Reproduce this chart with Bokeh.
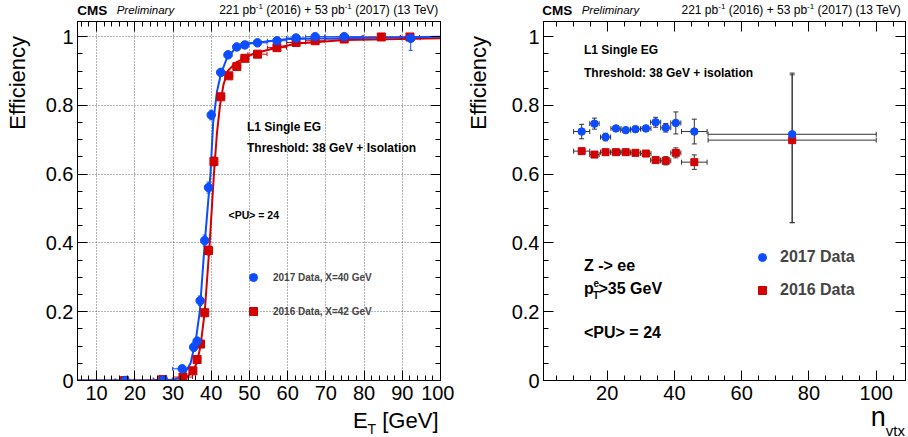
import numpy as np
from bokeh.plotting import figure
from bokeh.models import (ColumnDataSource, Whisker, TeeHead, Legend, LegendItem, Div, Label,
                          LinearAxis, SingleIntervalTicker, CustomJSTickFormatter, Range1d,
                          CustomLabelingPolicy)
from bokeh.layouts import row, column
from bokeh.embed import file_html
from bokeh.resources import INLINE

FONT = "Liberation Sans"
BLUE = "#0b4dff"
RED = "#d20000"

# ---------------- left panel: efficiency vs E_T ----------------
et_2017 = [17.5, 27.5, 32.4, 35.4, 36.3, 37.1, 38.3, 39.3, 40.0, 42.5, 44.4, 46.7, 48.8,
           52.1, 57.2, 62.2, 67.2, 74.8, 92.2]
et_2017_half = [2.5, 2.5, 2.5, 0.5, 0.5, 0.5, 0.5, 0.5, 0.5, 1.0, 1.0, 1.0, 1.0,
                2.5, 2.5, 2.5, 2.5, 5.0, 2.5]
eff_2017 = [0.0, 0.002, 0.034, 0.097, 0.114, 0.232, 0.407, 0.561, 0.772, 0.896, 0.947, 0.970, 0.976,
            0.982, 0.988, 0.996, 1.0, 1.0, 0.995]
eff_2017_lo = [0.0, 0.002, 0.008, 0.012, 0.012, 0.014, 0.016, 0.016, 0.014, 0.010, 0.008, 0.006, 0.005,
               0.004, 0.004, 0.003, 0.003, 0.003, 0.035]
eff_2017_hi = [0.002, 0.003, 0.008, 0.012, 0.012, 0.014, 0.016, 0.016, 0.014, 0.010, 0.008, 0.006, 0.005,
               0.004, 0.004, 0.003, 0.0, 0.0, 0.005]

et_2016 = [17.3, 27.3, 32.6, 35.2, 36.3, 37.2, 38.3, 39.3, 40.7, 42.5, 44.6, 46.7, 48.8,
           52.1, 57.2, 62.2, 67.2, 74.8, 84.5, 92.0]
et_2016_half = [2.5, 2.5, 2.5, 0.5, 0.5, 0.5, 0.5, 0.5, 0.5, 1.0, 1.0, 1.0, 1.0,
                2.5, 2.5, 2.5, 2.5, 5.0, 5.0, 2.5]
eff_2016 = [0.0, 0.003, 0.010, 0.028, 0.061, 0.106, 0.197, 0.378, 0.637, 0.825, 0.886, 0.913, 0.937,
            0.949, 0.968, 0.983, 0.988, 0.993, 0.999, 0.999]
eff_2016_err = [0.001, 0.002, 0.003, 0.005, 0.007, 0.009, 0.011, 0.013, 0.013, 0.010, 0.008, 0.007, 0.006,
                0.005, 0.004, 0.004, 0.003, 0.003, 0.002, 0.002]

# fitted turn-on curves
fit17_x = [5, 29, 31, 33, 34.6, 36, 37, 38.3, 39.8, 40.5, 41.5, 42.5, 44, 46, 50, 60, 100]
fit17_y = [0, 0, 0.005, 0.02, 0.05, 0.12, 0.2, 0.4, 0.6, 0.75, 0.84, 0.89, 0.935, 0.962, 0.98, 0.993, 1.0]
fit16_x = [5, 32, 33.7, 35, 36.2, 37.2, 38.3, 39.6, 40.7, 41.5, 42.3, 43.2, 44.3, 46.5, 51, 56, 62.5, 75, 100]
fit16_y = [0, 0, 0.01, 0.025, 0.05, 0.1, 0.2, 0.4, 0.6, 0.72, 0.8, 0.86, 0.9, 0.925, 0.95, 0.965, 0.98, 0.99, 0.995]

# ---------------- right panel: efficiency vs n_vtx ----------------
nvtx = [12.4, 16.2, 19.5, 22.6, 25.5, 28.4, 31.5, 34.4, 37.4, 40.4, 45.9, 75.0]
nvtx_half = [2.4, 1.4, 1.5, 1.5, 1.5, 1.5, 1.5, 1.5, 1.5, 1.5, 3.8, 25.0]
eff17_nvtx = [0.724, 0.747, 0.708, 0.733, 0.728, 0.731, 0.733, 0.751, 0.735, 0.749, 0.724, 0.716]
eff17_nvtx_lo = [0.021, 0.016, 0.011, 0.007, 0.007, 0.008, 0.009, 0.0145, 0.0125, 0.032, 0.036, 0.257]
eff17_nvtx_hi = [0.021, 0.016, 0.011, 0.007, 0.007, 0.008, 0.009, 0.0145, 0.0125, 0.032, 0.036, 0.178]
eff16_nvtx = [0.667, 0.657, 0.664, 0.664, 0.664, 0.662, 0.660, 0.641, 0.639, 0.662, 0.635, 0.699]
eff16_nvtx_lo = [0.007, 0.006, 0.006, 0.006, 0.006, 0.006, 0.006, 0.008, 0.012, 0.0145, 0.021, 0.24]
eff16_nvtx_hi = [0.007, 0.006, 0.006, 0.006, 0.006, 0.006, 0.006, 0.008, 0.012, 0.0145, 0.021, 0.19]

Y_RANGE = (0.0, 1.044)
LX_RANGE = (5.0, 100.0)
RX_RANGE = (1.05, 108.7)

fmt = CustomJSTickFormatter(code="return Number(tick.toFixed(3)).toString();")
blank_fmt = CustomJSTickFormatter(code="return '';")


def make_src(x, xh, y, ylo, yhi):
    x = np.asarray(x, float); xh = np.asarray(xh, float)
    y = np.asarray(y, float); ylo = np.asarray(ylo, float); yhi = np.asarray(yhi, float)
    return ColumnDataSource(dict(x=x, y=y, xl=x - xh, xu=x + xh, yl=y - ylo, yu=y + yhi))


def add_errors(p, src, color, head, width=1.0):
    for dim, base, lo, up in (("height", "x", "yl", "yu"), ("width", "y", "xl", "xu")):
        p.add_layout(Whisker(source=src, base=base, lower=lo, upper=up, dimension=dim,
                             line_color=color, line_width=width,
                             upper_head=TeeHead(size=head, line_color=color, line_width=width),
                             lower_head=TeeHead(size=head, line_color=color, line_width=width)))


def style(p, xtick, xminor, grid):
    xt = SingleIntervalTicker(interval=xtick, num_minor_ticks=xminor)
    yt = SingleIntervalTicker(interval=0.2, num_minor_ticks=4)
    bottom = p.below[0]
    left = p.left[0]
    bottom.ticker = xt
    left.ticker = yt
    left.formatter = fmt
    top = LinearAxis(ticker=xt, formatter=blank_fmt, major_label_text_font_size="1px",
                     major_label_standoff=0, major_label_policy=CustomLabelingPolicy(code="return new Set()"))
    right = LinearAxis(ticker=yt, formatter=blank_fmt, major_label_text_font_size="1px",
                       major_label_standoff=0, major_label_policy=CustomLabelingPolicy(code="return new Set()"))
    p.add_layout(top, "above")
    p.add_layout(right, "right")
    for ax in (bottom, left, top, right):
        ax.axis_line_color = "black"
        ax.major_tick_line_color = "black"
        ax.minor_tick_line_color = "black"
        ax.major_tick_in = 10
        ax.major_tick_out = 0
        ax.minor_tick_in = 5
        ax.minor_tick_out = 0
        ax.major_label_text_font = FONT
        ax.major_label_text_color = "black"
    bottom.major_label_text_font_size = "20px"
    bottom.major_label_standoff = 5
    left.major_label_text_font_size = "20px"
    left.major_label_standoff = 4
    p.outline_line_color = "black"
    p.outline_line_alpha = 1.0
    if grid:
        p.grid.grid_line_color = "#666666"
        p.grid.grid_line_dash = "1 2"
        p.grid.grid_line_width = 1
    else:
        p.grid.grid_line_color = None
    p.background_fill_color = "white"
    p.border_fill_color = "white"


FIG_H = 387
HEAD_H = 20
FOOT_H = 30
YLAB_W = 40

# ---------------- left figure ----------------
p1 = figure(width=454 - YLAB_W, height=FIG_H, output_backend="svg", toolbar_location=None,
            x_range=Range1d(*LX_RANGE), y_range=Range1d(*Y_RANGE),
            min_border_left=37, min_border_right=14, min_border_top=1, min_border_bottom=27)
style(p1, 10, 5, True)

s17 = make_src(et_2017, et_2017_half, eff_2017, eff_2017_lo, eff_2017_hi)
s16 = make_src(et_2016, et_2016_half, eff_2016, eff_2016_err, eff_2016_err)
add_errors(p1, s16, RED, 4)
add_errors(p1, s17, BLUE, 4)
p1.line(fit16_x, fit16_y, line_color=RED, line_width=2)
p1.line(fit17_x, fit17_y, line_color=BLUE, line_width=2)
r16 = p1.scatter("x", "y", source=s16, marker="square", size=8, color=RED)
r17 = p1.scatter("x", "y", source=s17, marker="circle", size=8.5, color=BLUE)

leg1 = Legend(items=[LegendItem(label="2017 Data, X=40 GeV", renderers=[r17]),
                     LegendItem(label="2016 Data, X=42 GeV", renderers=[r16])],
              location=(166, 59), margin=0, padding=0, spacing=14,
              glyph_width=20, glyph_height=20, label_height=20, label_standoff=10,
              label_text_font=FONT, label_text_font_size="10px", label_text_font_style="bold",
              background_fill_alpha=0, border_line_alpha=0)
p1.add_layout(leg1)

# ---------------- right figure ----------------
p2 = figure(width=454 - YLAB_W, height=FIG_H, output_backend="svg", toolbar_location=None,
            x_range=Range1d(*RX_RANGE), y_range=Range1d(*Y_RANGE),
            min_border_left=49, min_border_right=3, min_border_top=1, min_border_bottom=27)
style(p2, 20, 4, False)

n17 = make_src(nvtx, nvtx_half, eff17_nvtx, eff17_nvtx_lo, eff17_nvtx_hi)
n16 = make_src(nvtx, nvtx_half, eff16_nvtx, eff16_nvtx_lo, eff16_nvtx_hi)
add_errors(p2, n17, "#333333", 5)
add_errors(p2, n16, "#333333", 5)
q16 = p2.scatter("x", "y", source=n16, marker="square", size=7, color=RED)
q17 = p2.scatter("x", "y", source=n17, marker="circle", size=7.5, color=BLUE)

leg2 = Legend(items=[LegendItem(label="2017 Data", renderers=[q17]),
                     LegendItem(label="2016 Data", renderers=[q16])],
              location=(209, 80), margin=0, padding=0, spacing=13,
              glyph_width=20, glyph_height=20, label_height=20, label_standoff=8,
              label_text_font=FONT, label_text_font_size="16px", label_text_font_style="bold",
              background_fill_alpha=0, border_line_alpha=0)
p2.add_layout(leg2)


# in-frame annotations: positions in page pixels converted to data units
def add_text(p, frame_left, frame_right, xr, px, py, text, size, bold=True):
    x = xr[0] + (px - frame_left) * (xr[1] - xr[0]) / (frame_right - frame_left)
    y = Y_RANGE[0] + (380.0 - py) * (Y_RANGE[1] - Y_RANGE[0]) / (380.0 - 21.0)
    p.add_layout(Label(x=x, y=y, text=text, text_font=FONT, text_font_size=f"{size}px",
                       text_font_style="bold" if bold else "normal", text_align="left",
                       text_baseline="middle", text_color="black"))


L = (77.0, 440.0, LX_RANGE)
R = (543.0, 905.0, RX_RANGE)
add_text(p1, *L, 246.5, 126, "L1 Single EG", 12)
add_text(p1, *L, 246.5, 147.5, "Threshold: 38 GeV + Isolation", 12)
add_text(p1, *L, 228.0, 214.5, "<PU> = 24", 10.5)

add_text(p2, *R, 583.5, 49, "L1 Single EG", 12)
add_text(p2, *R, 583.5, 72, "Threshold: 38 GeV + isolation", 12)
add_text(p2, *R, 583.5, 265, "Z -> ee", 16)
add_text(p2, *R, 583.5, 288, "p", 16)
add_text(p2, *R, 593.0, 282.0, "e", 10)
add_text(p2, *R, 592.5, 294.5, "T", 10)
add_text(p2, *R, 598.0, 288, ">35 GeV", 16)
add_text(p2, *R, 583.5, 332, "<PU> = 24", 16)

# ---------------- header / footer / y-title texts ----------------
SUP = '<sup style="font-size:8px;vertical-align:5px;line-height:0">-1</sup>'
LUMI = f"221 pb{SUP} (2016) + 53 pb{SUP} (2017) (13 TeV)"
BASE = f"font-family:'{FONT}',sans-serif;color:black;white-space:nowrap"


def header(width, cms_left, lumi_right):
    html = (
        f'<div style="position:relative;width:{width}px;height:{HEAD_H}px;{BASE}">'
        f'<span style="position:absolute;left:{cms_left}px;top:3.6px;font-size:13.5px;'
        f'line-height:13.5px;font-weight:bold">CMS</span>'
        f'<span style="position:absolute;left:{cms_left + 39.4}px;top:5.3px;font-size:11.5px;'
        f'line-height:11.5px;font-style:italic">Preliminary</span>'
        f'<span style="position:absolute;right:{lumi_right}px;top:3.8px;font-size:12px;'
        f'line-height:12px">{LUMI}</span></div>'
    )
    return Div(text=html, width=width, height=HEAD_H, margin=0)


def footer(width, inner, right, top, size):
    html = (
        f'<div style="position:relative;width:{width}px;height:{FOOT_H}px;{BASE}">'
        f'<span style="position:absolute;right:{right}px;top:{top}px;font-size:{size}px;'
        f'line-height:{size}px">{inner}</span></div>'
    )
    return Div(text=html, width=width, height=FOOT_H, margin=0)


def ytitle(left, end_y):
    box = 300
    html = (
        f'<div style="position:relative;width:{YLAB_W}px;height:{FIG_H}px;{BASE}">'
        f'<span style="position:absolute;left:{left}px;top:{end_y + box}px;width:{box}px;'
        f'text-align:right;font-size:22px;line-height:22px;transform-origin:0 0;'
        f'transform:rotate(-90deg)">Efficiency</span></div>'
    )
    return Div(text=html, width=YLAB_W, height=FIG_H, margin=0)


h1 = header(454, 77.3, 15.7)
h2 = header(454, 88.3, 7.3)
f1 = footer(454, 'E<sub style="font-size:14px;vertical-align:-6px;line-height:0">T</sub> [GeV]',
            15.5, 2.5, 22)
f2 = footer(454, 'n<sub style="font-size:15px;vertical-align:-10px;line-height:0">vtx</sub>',
            3.0, -3.5, 27)
y1 = ytitle(7.1, 16)
y2 = ytitle(13.8, 16)

left_panel = column(h1, row(y1, p1, spacing=0), f1, spacing=0)
right_panel = column(h2, row(y2, p2, spacing=0), f2, spacing=0)
layout = row(left_panel, right_panel, spacing=0)
open("out.html", "w").write(file_html(layout, INLINE))
